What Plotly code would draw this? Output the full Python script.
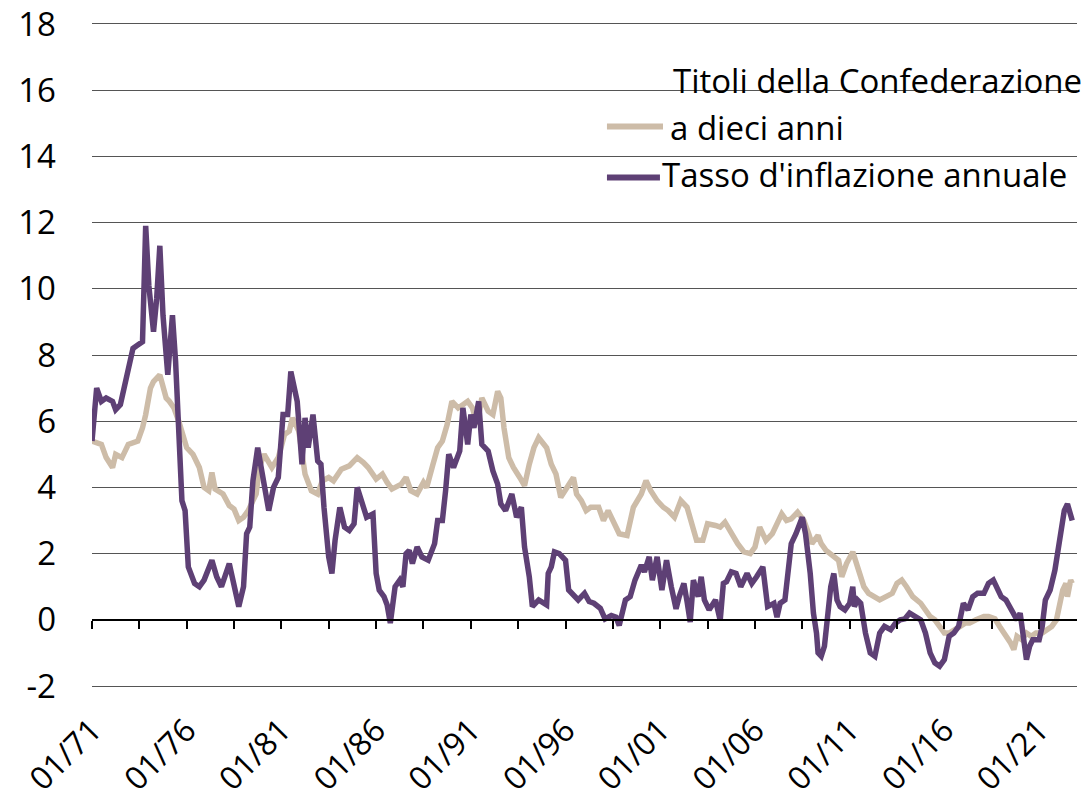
import plotly.graph_objects as go

# ---- Data ----
bond_dates = [
    "1971-01", "1971-07", "1971-10", "1972-02", "1972-04", "1972-08", "1972-12", "1973-06", "1973-09", "1973-11",
    "1974-02", "1974-04", "1974-08", "1974-12", "1975-02", "1975-05", "1975-08", "1976-01", "1976-05", "1976-09",
    "1976-12", "1977-03", "1977-05", "1977-07", "1977-12", "1978-04", "1978-07", "1978-10", "1979-01", "1979-04",
    "1979-09", "1979-11", "1980-02", "1980-05", "1980-07", "1980-11", "1981-03", "1981-06", "1981-08", "1981-12",
    "1982-04", "1982-08", "1982-12", "1983-03", "1983-07", "1983-10", "1984-03", "1984-08", "1985-01", "1985-05",
    "1985-08", "1986-01", "1986-05", "1986-08", "1986-11", "1987-05", "1987-08", "1987-11", "1988-03", "1988-07",
    "1988-09", "1989-01", "1989-04", "1989-07", "1989-10", "1990-01", "1990-05", "1990-08", "1990-11", "1991-02",
    "1991-05", "1991-08", "1991-12", "1992-03", "1992-06", "1992-08", "1992-10", "1993-01", "1993-04", "1993-08",
    "1993-11", "1994-02", "1994-05", "1994-08", "1995-01", "1995-04", "1995-07", "1995-10", "1996-02", "1996-06",
    "1996-08", "1996-11", "1997-02", "1997-05", "1997-10", "1998-01", "1998-04", "1998-07", "1998-11", "1999-04",
    "1999-08", "2000-01", "2000-04", "2000-07", "2000-11", "2001-03", "2001-06", "2001-10", "2002-02", "2002-06",
    "2002-09", "2002-12", "2003-04", "2003-07", "2003-12", "2004-03", "2004-06", "2004-10", "2005-02", "2005-06",
    "2005-10", "2006-01", "2006-04", "2006-08", "2006-12", "2007-03", "2007-06", "2007-09", "2007-12", "2008-04",
    "2008-08", "2008-11", "2009-01", "2009-05", "2009-07", "2009-10", "2010-03", "2010-06", "2010-08", "2010-11",
    "2011-03", "2011-06", "2011-10", "2012-01", "2012-04", "2012-08", "2012-12", "2013-04", "2013-07", "2013-10",
    "2014-01", "2014-05", "2014-10", "2015-01", "2015-04", "2015-07", "2015-10", "2016-01", "2016-04", "2016-08",
    "2016-11", "2017-02", "2017-05", "2017-09", "2018-02", "2018-05", "2018-09", "2018-12", "2019-03", "2019-07",
    "2019-09", "2019-11", "2020-02", "2020-05", "2020-08", "2020-11", "2021-03", "2021-06", "2021-09", "2021-12",
    "2022-02", "2022-04", "2022-06", "2022-07", "2022-09", "2022-10",
]
bond_values = [
    5.4, 5.3, 4.9, 4.6, 5.0, 4.9, 5.3, 5.4, 5.8, 6.2,
    7.0, 7.2, 7.4, 6.7, 6.6, 6.4, 6.0, 5.2, 5.0, 4.6,
    4.0, 3.9, 4.45, 3.95, 3.8, 3.45, 3.35, 3.0, 3.1, 3.3,
    3.8, 4.6, 5.0, 4.8, 4.6, 4.9, 5.6, 5.7, 6.1, 5.7,
    4.4, 3.9, 3.8, 4.2, 4.3, 4.2, 4.55, 4.65, 4.9, 4.75,
    4.6, 4.25, 4.4, 4.15, 3.95, 4.1, 4.3, 3.9, 3.8, 4.15,
    4.0, 4.7, 5.2, 5.4, 5.9, 6.6, 6.4, 6.5, 6.6, 6.4,
    5.9, 6.7, 6.3, 6.2, 6.9, 6.7, 5.8, 4.9, 4.6, 4.3,
    4.05, 4.7, 5.2, 5.5, 5.2, 4.7, 4.4, 3.7, 4.0, 4.3,
    3.8, 3.6, 3.3, 3.4, 3.4, 3.0, 3.3, 3.0, 2.6, 2.55,
    3.4, 3.8, 4.2, 3.9, 3.6, 3.4, 3.3, 3.1, 3.6, 3.4,
    2.9, 2.4, 2.4, 2.9, 2.85, 2.8, 2.95, 2.6, 2.3, 2.05,
    2.0, 2.2, 2.8, 2.4, 2.6, 2.9, 3.2, 3.0, 3.05, 3.25,
    3.0, 2.6, 2.3, 2.55, 2.3, 2.1, 1.9, 1.8, 1.3, 1.7,
    2.05, 1.6, 1.0, 0.8, 0.7, 0.6, 0.7, 0.8, 1.1, 1.2,
    1.0, 0.7, 0.5, 0.3, 0.1, 0.0, -0.2, -0.4, -0.4, -0.3,
    -0.2, -0.1, -0.1, 0.0, 0.1, 0.1, 0.03, -0.2, -0.4, -0.7,
    -0.9, -0.5, -0.6, -0.4, -0.5, -0.4, -0.4, -0.3, -0.2, 0.0,
    0.4, 0.9, 1.1, 0.7, 1.2, 1.1,
]

infl_dates = [
    "1971-01", "1971-04", "1971-07", "1971-10", "1972-02", "1972-04", "1972-07", "1972-11", "1973-03", "1973-06",
    "1973-09", "1973-11", "1974-01", "1974-04", "1974-06", "1974-08", "1974-10", "1975-01", "1975-04", "1975-06",
    "1975-08", "1975-10", "1975-12", "1976-02", "1976-06", "1976-09", "1976-12", "1977-05", "1977-08", "1977-11",
    "1978-04", "1978-07", "1978-10", "1979-01", "1979-03", "1979-05", "1979-07", "1979-10", "1980-02", "1980-05",
    "1980-08", "1980-11", "1981-02", "1981-05", "1981-07", "1981-11", "1982-02", "1982-04", "1982-06", "1982-09",
    "1982-12", "1983-02", "1983-04", "1983-07", "1983-09", "1983-11", "1984-02", "1984-05", "1984-08", "1984-11",
    "1985-01", "1985-04", "1985-07", "1985-11", "1986-01", "1986-03", "1986-06", "1986-08", "1986-10", "1987-01",
    "1987-04", "1987-06", "1987-08", "1987-10", "1987-12", "1988-03", "1988-06", "1988-10", "1989-02", "1989-04",
    "1989-07", "1989-09", "1989-11", "1990-02", "1990-06", "1990-08", "1990-10", "1990-11", "1991-01", "1991-03",
    "1991-06", "1991-08", "1991-12", "1992-03", "1992-06", "1992-08", "1992-11", "1993-03", "1993-06", "1993-09",
    "1993-11", "1994-02", "1994-04", "1994-08", "1995-01", "1995-02", "1995-04", "1995-06", "1995-09", "1996-01",
    "1996-03", "1996-06", "1996-09", "1997-01", "1997-04", "1997-07", "1997-11", "1998-02", "1998-06", "1998-09",
    "1998-11", "1999-03", "1999-06", "1999-09", "2000-01", "2000-03", "2000-06", "2000-08", "2000-11", "2001-02",
    "2001-05", "2001-08", "2001-11", "2002-01", "2002-04", "2002-06", "2002-08", "2002-10", "2003-01", "2003-03",
    "2003-05", "2003-08", "2003-12", "2004-03", "2004-05", "2004-07", "2004-10", "2005-01", "2005-04", "2005-08",
    "2005-11", "2006-02", "2006-06", "2006-09", "2007-01", "2007-03", "2007-05", "2007-08", "2007-10", "2007-12",
    "2008-03", "2008-07", "2008-09", "2008-12", "2009-02", "2009-04", "2009-05", "2009-07", "2009-09", "2009-11",
    "2010-01", "2010-03", "2010-05", "2010-07", "2010-10", "2011-01", "2011-03", "2011-04", "2011-06", "2011-08",
    "2011-11", "2012-02", "2012-05", "2012-08", "2012-11", "2013-03", "2013-06", "2013-09", "2013-12", "2014-03",
    "2014-06", "2014-10", "2015-01", "2015-04", "2015-07", "2015-10", "2016-01", "2016-04", "2016-07", "2016-10",
    "2017-01", "2017-04", "2017-07", "2017-10", "2018-02", "2018-05", "2018-08", "2018-10", "2019-01", "2019-04",
    "2019-08", "2019-11", "2020-01", "2020-03", "2020-05", "2020-07", "2020-09", "2021-01", "2021-03", "2021-05",
    "2021-08", "2021-11", "2022-01", "2022-03", "2022-05", "2022-07", "2022-10",
]
infl_values = [
    5.4, 7.0, 6.6, 6.7, 6.6, 6.35, 6.5, 7.3, 8.2, 8.3,
    8.4, 11.9, 10.1, 8.7, 9.7, 11.3, 9.2, 7.4, 9.2, 7.8,
    5.6, 3.6, 3.3, 1.6, 1.1, 1.0, 1.2, 1.8, 1.3, 1.0,
    1.7, 1.1, 0.4, 1.0, 2.6, 2.8, 4.2, 5.2, 4.0, 3.3,
    4.0, 4.3, 6.2, 6.2, 7.5, 6.6, 4.7, 6.1, 5.2, 6.2,
    4.8, 4.7, 3.4, 1.9, 1.4, 2.4, 3.4, 2.8, 2.7, 2.9,
    4.0, 3.5, 3.1, 3.2, 1.4, 0.9, 0.7, 0.45, -0.1, 1.0,
    1.2, 1.0, 2.0, 2.1, 1.7, 2.2, 1.9, 1.8, 2.3, 3.0,
    3.0, 3.9, 5.0, 4.6, 5.1, 6.4, 5.8, 5.3, 6.2, 5.8,
    6.6, 5.3, 5.1, 4.5, 4.1, 3.5, 3.3, 3.8, 3.1, 3.4,
    2.2, 1.3, 0.4, 0.6, 0.45, 1.4, 1.6, 2.05, 2.0, 1.8,
    0.9, 0.75, 0.6, 0.8, 0.55, 0.5, 0.35, 0.03, 0.13, 0.08,
    -0.17, 0.6, 0.7, 1.2, 1.65, 1.45, 1.9, 1.2, 1.9, 0.9,
    1.8, 1.0, 0.33, 0.7, 1.1, 0.55, -0.07, 1.2, 0.7, 1.3,
    0.6, 0.3, 0.6, -0.02, 1.1, 1.15, 1.45, 1.4, 1.0, 1.4,
    1.1, 1.3, 1.6, 0.4, 0.5, 0.08, 0.5, 0.6, 1.4, 2.3,
    2.6, 3.1, 2.6, 1.4, 0.2, -0.4, -1.0, -1.1, -0.8, 0.2,
    1.0, 1.4, 0.6, 0.4, 0.3, 0.5, 1.0, 0.4, 0.6, 0.5,
    -0.4, -1.0, -1.1, -0.4, -0.2, -0.3, -0.1, 0.0, 0.03, 0.2,
    0.1, 0.0, -0.4, -1.0, -1.3, -1.4, -1.2, -0.5, -0.4, -0.2,
    0.5, 0.3, 0.7, 0.8, 0.8, 1.1, 1.2, 1.0, 0.7, 0.6,
    0.3, 0.0, 0.2, -0.6, -1.2, -0.8, -0.6, -0.6, -0.2, 0.6,
    0.9, 1.5, 2.2, 2.7, 3.3, 3.5, 3.0,
]

series_names = ["Titoli della Confederazione a dieci anni", "Tasso d'inflazione annuale"]
legend_lines = [["Titoli della Confederazione", "a dieci anni"], ["Tasso d'inflazione annuale"]]
series_colors = ["#CDBCA8", "#5E4075"]

y_tick_values = [-2, 0, 2, 4, 6, 8, 10, 12, 14, 16, 18]
y_tick_labels = ["-2", "0", "2", "4", "6", "8", "10", "12", "14", "16", "18"]
x_label_years = list(range(1971, 2022, 5))
x_labels = ["01/%02d" % (y % 100) for y in x_label_years]

# tick marks every 30 months on the zero line
tick_marks = []
m = 0
while True:
    yr = 1971 + m // 12
    mo = m % 12 + 1
    if yr > 2022:
        break
    tick_marks.append("%d-%02d-01" % (yr, mo))
    m += 30

FONT = "Open Sans"
x_range = ["1971-01-01", "2023-01-01"]
y_range = [-2.06, 18.06]
zero_pos = (0 - y_range[0]) / (y_range[1] - y_range[0])

fig = go.Figure()
fig.add_trace(go.Scatter(
    x=bond_dates, y=bond_values, mode="lines", name=series_names[0],
    line=dict(color=series_colors[0], width=5.5), xaxis="x", yaxis="y",
))
fig.add_trace(go.Scatter(
    x=infl_dates, y=infl_values, mode="lines", name=series_names[1],
    line=dict(color=series_colors[1], width=5.5), xaxis="x2", yaxis="y",
))

# ---- Legend drawn by hand (sample line + text) ----
legend_sample_x = (0.5228, 0.5797)
legend_rows = [  # (series index, line text, y position in data units, x of text)
    (0, legend_lines[0][0], 16.28, 0.588),
    (0, legend_lines[0][1], 14.88, 0.585),
    (1, legend_lines[1][0], 13.45, 0.577),
]
sample_y = {0: 14.90, 1: 13.36}
sample_end = {0: 0.5797, 1: 0.5766}

annotations = []
for idx, text, yv, xt in legend_rows:
    annotations.append(dict(
        x=xt, y=yv, xref="paper", yref="y", text=text, showarrow=False,
        xanchor="left", yanchor="middle", font=dict(family=FONT, size=33, color="black"),
    ))

shapes = [
    # white box behind the legend texts (hides gridlines there)
    dict(type="rect", xref="paper", yref="y", x0=0.5848, x1=1.0, y0=15.4, y1=17.0,
         fillcolor="white", line=dict(width=0), layer="between"),
    dict(type="rect", xref="paper", yref="y", x0=0.5767, x1=1.0, y0=13.0, y1=15.4,
         fillcolor="white", line=dict(width=0), layer="between"),
]
for i in (0, 1):
    shapes.append(dict(
        type="line", xref="paper", yref="y", x0=legend_sample_x[0], x1=sample_end[i],
        y0=sample_y[i], y1=sample_y[i], line=dict(color=series_colors[i], width=6),
    ))

# The page body has an 8px default margin; the figure is sized to fit the window.
fig.update_layout(
    width=1084, height=792,
    margin=dict(l=84, r=15, t=14, b=112),
    paper_bgcolor="white", plot_bgcolor="white",
    font=dict(family=FONT, size=33, color="black"),
    showlegend=False,
    xaxis=dict(
        type="date", range=x_range, showgrid=False, zeroline=False, showline=False,
        tickvals=["%d-01-01" % y for y in x_label_years], ticktext=x_labels,
        tickangle=-45, ticks="", tickfont=dict(size=32), ticklabelstandoff=16,
        automargin=False, ticklabeloverflow="allow",
    ),
    xaxis2=dict(
        type="date", range=x_range, overlaying="x", anchor="free", position=zero_pos,
        showgrid=False, zeroline=False, showline=True, linecolor="black", linewidth=2,
        ticks="outside", ticklen=8, tickwidth=2, tickcolor="black",
        tickvals=tick_marks, showticklabels=False, automargin=False,
    ),
    yaxis=dict(
        range=y_range, tickvals=y_tick_values, ticktext=y_tick_labels,
        showgrid=True, gridcolor="#555555", gridwidth=1, zeroline=False,
        showline=False, ticks="", ticklabelstandoff=35, tickfont=dict(size=33),
        automargin=False, ticklabeloverflow="allow",
    ),
    annotations=annotations,
    shapes=shapes,
)

fig.write_html("out.html")
